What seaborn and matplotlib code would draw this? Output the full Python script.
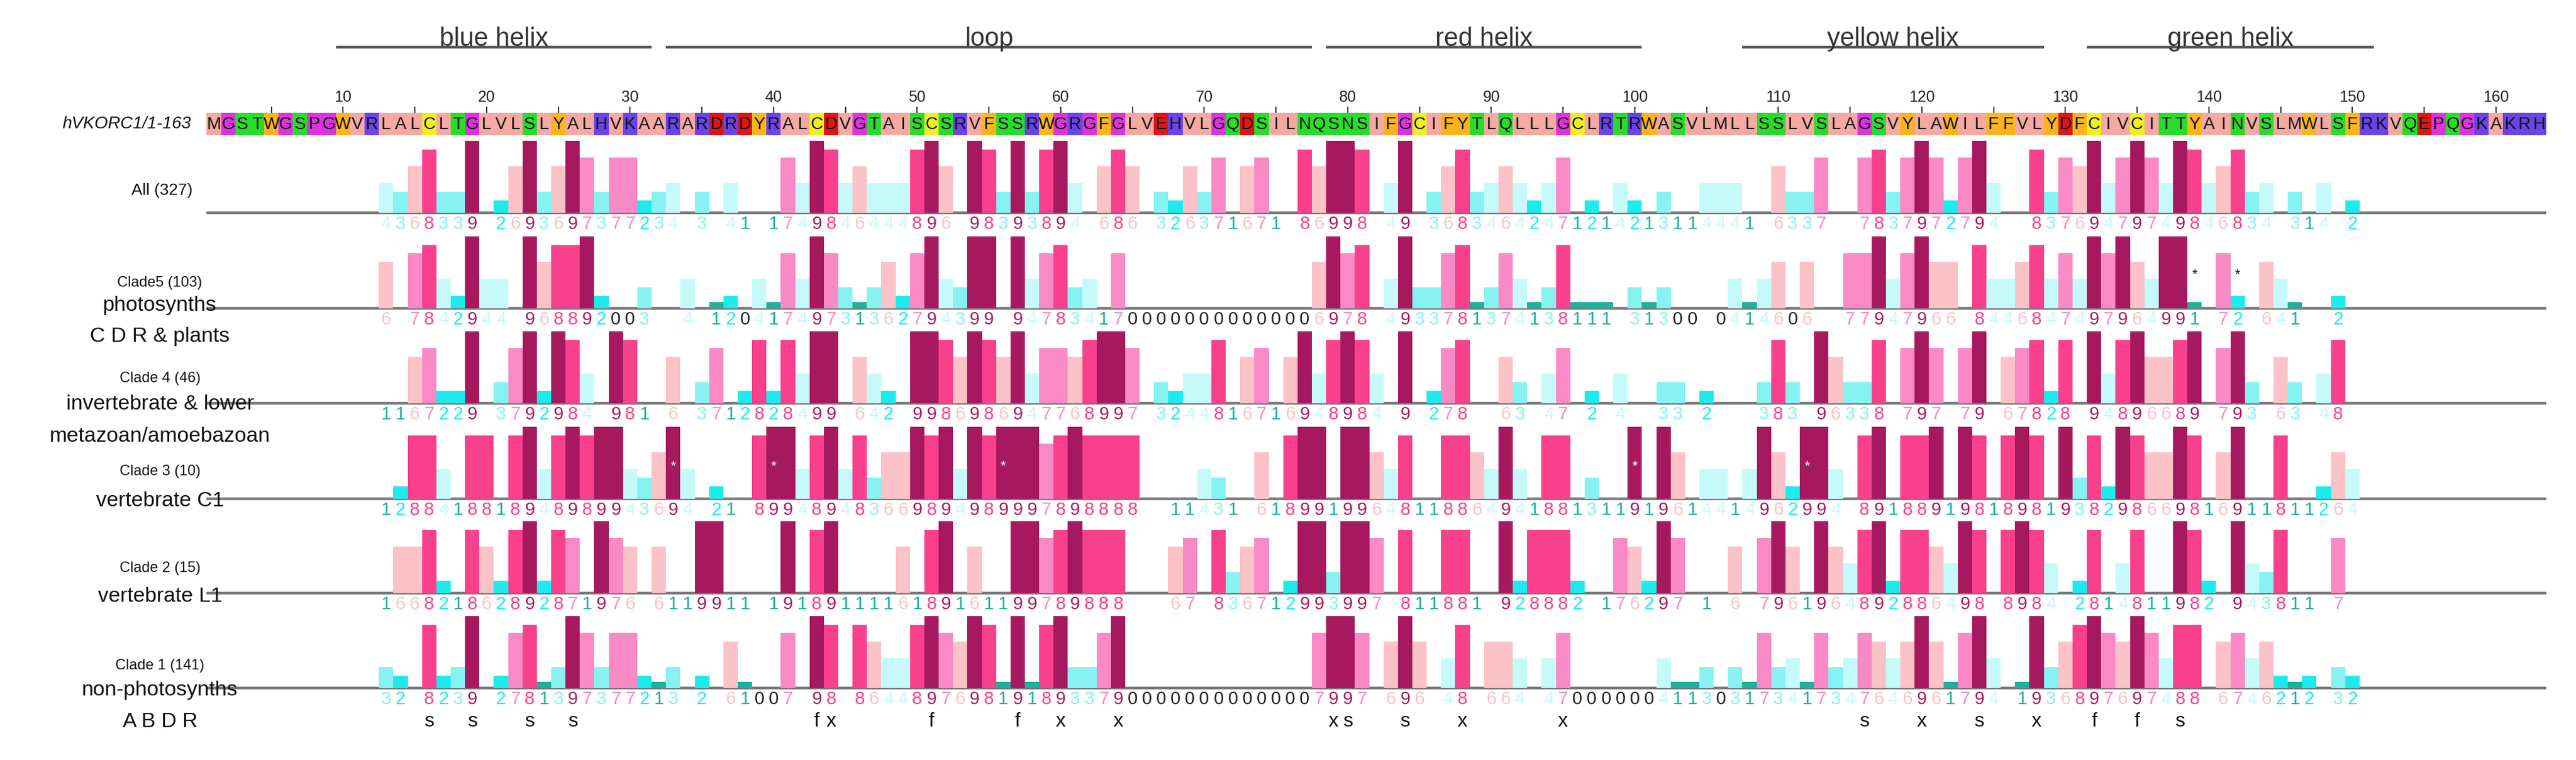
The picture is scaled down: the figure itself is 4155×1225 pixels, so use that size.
import matplotlib
matplotlib.use("Agg")
import matplotlib.pyplot as plt
import seaborn as sns
import pandas as pd

W, H = 4155, 1225

# residue x position in pixels: 345 + (i-1)*23.15
def px2res(px):
    return (px - 345) / 23.15 + 1

sequence = ("MGSTWGSPGW" "VRLALCLTGL" "VLSLYALHVK" "AARARDRDYR" "ALCDVGTAIS"
            "CSRVFSSRWG" "RGFGLVEHVL" "GQDSILNQSN" "SIFGCIFYTL" "QLLLGCLRTR"
            "WASVLMLLSS" "LVSLAGSVYL" "AWILFFVLYD" "FCIVCITTYA" "INVSLMWLSF"
            "RKVQEPQGKA" "KRH")

# one code per residue: '1'..'9' score with bar, 'i' score 1 without bar,
# '0' gap (black zero), '.' nothing
all_327 = ("..........", "..4368339.", "2693697377", "234.3.4i.i", "7498464448",
           "96.9839389", "4.686.3263", "7i67i.8699", "8.49.36834", "64247i2i42",
           "i3ii444i.6", "337..78379", "72794..837", "6947974984", "6834.3i4.2",
           "..........", "...")
clade5 = ("..........", "..6.784294", "4.96889200", "3..4.12041", "7497313627",
          "94399.9478", "34i7000000", "0000000697", "8.49337813", "74138111.3",
          "1300.04146", "06..779479", "66.8446847", "497964991.", "72.641..2.",
          "..........", "...")
clade4 = ("..........", "..ii67229.", "3792984.98", "i.6.37i282", "8499.642.9",
          "9869869477", "68997.3244", "8i67i69489", "84.9.278..", "63.47.2.4.",
          ".33.2...38", "3.96338.79", "7.79.67828", ".94896689.", "793.63.48.",
          "..........", "...")
clade3 = ("..........", "..i2884i88", "i894898994", "3694.2i.89", "9489483669",
          "8949899978", "98888..ii4", "3i.6i899i9", "9648ii8864", "94i88i3ii9",
          "i96i44i496", "2994.89i88", "9i98i898i9", "382986698i", "69ii8ii264",
          "..........", "...")
clade2 = ("..........", "..i6682i86", "289287i976", ".6ii99ii.i", "9i89iiii6i",
          "89i6ii9978", "9888...67.", "8367i29939", "97.8ii88i.", "928882.i76",
          "297.i.6.79", "6i96489288", "6498.8984.", "28i48ii982", ".9438ii.7.",
          "..........", "...")
clade1 = ("..........", "..32.8239.", "2781397377", "213.2.6100", "7.98.86448",
          "9769819189", "3379000000", "0000000799", "7.696.48.6", "64.4700000",
          "0411303173", "4173476469", "61794.1936", "897697488.", "6746212.32",
          "..........", "...")

tracks = [all_327, clade5, clade4, clade3, clade2, clade1]
baselines = [343, 497, 650, 804, 956, 1109]

clade5_stars = [139, 142]
clade3_stars = [33, 40, 56, 100, 112]

helix_names = ["blue helix", "loop", "red helix", "yellow helix", "green helix"]
helix_start = [10, 33, 79, 108, 132]
helix_end = [31, 77, 100, 128, 151]

motif_pos = [16, 19, 23, 26, 43, 44, 51, 57, 60, 64, 79, 80, 84, 88, 95,
             116, 120, 124, 128, 132, 135, 138]
motif_char = "ssssfxffxxxssxxsxsxffs"

# (text, y px, size)
track_labels = [
    [("All (327)", 307, 19)],
    [("Clade5 (103)", 456, 17), ("photosynths", 493, 24.5), ("C D R & plants", 543, 24.5)],
    [("Clade 4 (46)", 610, 17), ("invertebrate & lower", 652, 24.5), ("metazoan/amoebazoan", 703, 24.5)],
    [("Clade 3 (10)", 760, 17), ("vertebrate C1", 808, 24.5)],
    [("Clade 2 (15)", 916, 17), ("vertebrate L1", 962, 24.5)],
    [("Clade 1 (141)", 1073, 17), ("non-photosynths", 1113, 24.5), ("A B D R", 1163, 24.5)],
]

bar_colors = {"9": "#A6195E", "8": "#F9408C", "7": "#F98AC6", "6": "#FBC2C7",
              "4": "#C6FAFA", "3": "#86F2F2", "2": "#1DEBEB", "1": "#1CB29C"}
digit_colors = dict(bar_colors, i="#1CB29C", **{"0": "#222222"})
bar_height = {"9": 1.0, "8": 0.88, "7": 0.765, "6": 0.645, "4": 0.41,
              "3": 0.29, "2": 0.175, "1": 0.085}

res_colors = {}
for aa in "AILMV":
    res_colors[aa] = "#F5A9A3"
for aa in "FWY":
    res_colors[aa] = "#FBB41E"
res_colors["C"] = "#EFEF22"
for aa in "GP":
    res_colors[aa] = "#DD33DD"
for aa in "STNQ":
    res_colors[aa] = "#28DD2A"
for aa in "HKR":
    res_colors[aa] = "#6A44E8"
for aa in "DE":
    res_colors[aa] = "#E01515"

narrow = ["Liberation Sans Narrow", "Liberation Sans", "DejaVu Sans"]
plt.rcParams["font.family"] = narrow

fig = plt.figure(figsize=(W / 100, H / 100), dpi=100)
fig.patch.set_facecolor("white")

# overlay axes: x in residue units, y in pixels (top down)
ax0 = fig.add_axes([0, 0, 1, 1])
ax0.set_xlim(px2res(0), px2res(W))
ax0.set_ylim(H, 0)
ax0.axis("off")

pos = list(range(1, len(sequence) + 1))

# helix annotations
for name, s, e in zip(helix_names, helix_start, helix_end):
    ax0.hlines(76, s - 0.5, e + 0.5, color="#555555", lw=3.2)
    ax0.text((s + e) / 2, 74, name, ha="center", va="baseline", fontsize=30,
             color="#333333")

# ruler
ax0.vlines([p for p in pos if p % 5 == 0], 172, 182, color="#222222", lw=1.3)
for p in pos:
    if p % 10 == 0:
        ax0.text(p, 157, str(p), ha="center", va="center", fontsize=18, color="#222222")

# sequence row
ax0.bar(pos, 36, bottom=182, width=1.0, color=[res_colors[a] for a in sequence],
        linewidth=0)
for p, a in zip(pos, sequence):
    ax0.text(p, 201, a, ha="center", va="center", fontsize=20, color="#111111")
ax0.text(px2res(308), 200, "hVKORC1/1-163", ha="right", va="center",
         fontsize=20, style="italic", color="#111111")

# baselines, digits, labels
for codes, base, labels in zip(tracks, baselines, track_labels):
    row = "".join(codes)
    ax0.hlines(base, 0.5, 163.5, color="#7A7A7A", lw=3.2, zorder=3)
    for p, c in zip(pos, row):
        if c != ".":
            ax0.text(p, base + 18, "1" if c == "i" else c, ha="center", va="center",
                     fontsize=21, color=digit_colors[c])
    for txt, y, size in labels:
        xc = 261 if txt.startswith("All") else 258
        ax0.text(px2res(xc), y, txt, ha="center", va="center", fontsize=size,
                 color="#111111", zorder=4)

for p, ch in zip(motif_pos, motif_char):
    ax0.text(p, 1163, ch, ha="center", va="center", fontsize=23, color="#111111")

# conservation histograms
left = 345 - 0.5 * 23.15
width = 163 * 23.15
for k, (codes, base) in enumerate(zip(tracks, baselines)):
    row = "".join(codes)
    df = pd.DataFrame({"pos": pos, "code": list(row)})
    df = df[df["code"].isin(list(bar_height))].copy()
    df["h"] = df["code"].map(bar_height)
    ax = fig.add_axes([left / W, 1 - base / H, width / W, 116 / H])
    sns.barplot(data=df, x="pos", y="h", hue="code", palette=bar_colors,
                native_scale=True, dodge=False, width=1.0, saturation=1,
                errorbar=None, legend=False, linewidth=0, ax=ax)
    ax.set_xlim(0.5, 163.5)
    ax.set_ylim(0, 1)
    ax.axis("off")
    if k == 1:
        for p in clade5_stars:
            ax.text(p, 0.47, "*", ha="center", va="center", fontsize=16, color="#222222")
    if k == 3:
        for p in clade3_stars:
            ax.text(p, 0.45, "*", ha="center", va="center", fontsize=16, color="white")

fig.savefig("out.png", dpi=100, facecolor="white")
